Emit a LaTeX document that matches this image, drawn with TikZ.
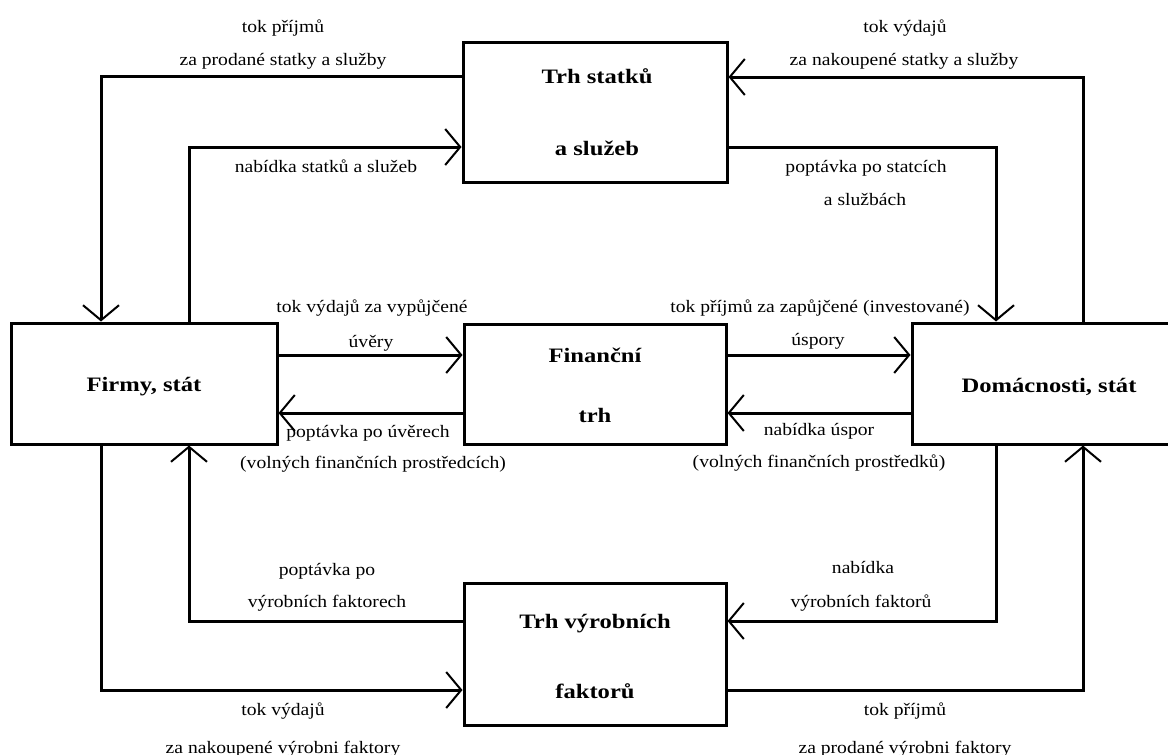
\documentclass[tikz,border=0pt]{standalone}
\usepackage{fontspec}
\setmainfont{Liberation Serif}[FakeStretch=1.2]
\newfontfamily\lblf{Liberation Serif}[FakeStretch=1.12]
\usetikzlibrary{arrows.meta}
\tikzset{
  box/.style={draw, line width=3pt, inner sep=0pt, rectangle},
  conn/.style={line width=3pt, line join=miter, -{Straight Barb[length=15pt,width=36pt,line width=2pt]}},
  lbl/.style={anchor=base, inner sep=0pt, font=\lblf\fontsize{17.5}{20}\selectfont},
  btxt/.style={anchor=base, inner sep=0pt, font=\fontsize{20.5}{24}\selectfont\bfseries},
}
\begin{document}
\begin{tikzpicture}[x=1pt,y=-1pt]
\fill[white] (0,0) rectangle (1168,755);
\clip (0,0) rectangle (1168,755);
% boxes
\node[box, minimum width=264pt, minimum height=140pt] (trhS) at (595,112) {};
\node[box, minimum width=266pt, minimum height=121pt] (firmy) at (144,383.5) {};
\node[box, minimum width=262pt, minimum height=120pt] (fin) at (595,384) {};
\node[box, minimum width=274pt, minimum height=121pt] (dom) at (1049,383.5) {};
\node[box, minimum width=262pt, minimum height=142pt] (trhV) at (595,654) {};
% box texts
\node[btxt] (bS1) at (597,83) {Trh statků};
\node[btxt] (bS2) at (597,155) {a služeb};
\node[btxt] (bF) at (144,391) {Firmy, stát};
\node[btxt] (bN1) at (595,362) {Finanční};
\node[btxt] (bN2) at (595,422) {trh};
\node[btxt] (bD) at (1049,392) {Domácnosti, stát};
\node[btxt] (bV1) at (595,628) {Trh výrobních};
\node[btxt] (bV2) at (595,698) {faktorů};
% connectors
\draw[conn] (trhS.west |- 0,76) -| (firmy.north -| 101,0);
\draw[conn] (firmy.north -| 189,0) |- (trhS.west |- 0,147);
\draw[conn] (dom.north -| 1083,0) |- (trhS.east |- 0,77);
\draw[conn] (trhS.east |- 0,147) -| (dom.north -| 996,0);
\draw[conn] (firmy.east |- 0,355) -- (fin.west |- 0,355);
\draw[conn] (fin.west |- 0,413) -- (firmy.east |- 0,413);
\draw[conn] (fin.east |- 0,355) -- (dom.west |- 0,355);
\draw[conn] (dom.west |- 0,413) -- (fin.east |- 0,413);
\draw[conn] (trhV.west |- 0,621) -| (firmy.south -| 189,0);
\draw[conn] (firmy.south -| 101,0) |- (trhV.west |- 0,690);
\draw[conn] (dom.south -| 996,0) |- (trhV.east |- 0,621);
\draw[conn] (trhV.east |- 0,690) -| (dom.south -| 1083,0);
% labels
\node[lbl] (l1a) at (283,32) {tok příjmů};
\node[lbl] (l1b) at (283,65) {za prodané statky a služby};
\node[lbl] (l2) at (326,172) {nabídka statků a služeb};
\node[lbl] (l3a) at (905,32) {tok výdajů};
\node[lbl] (l3b) at (904,65) {za nakoupené statky a služby};
\node[lbl] (l4a) at (866,172) {poptávka po statcích};
\node[lbl] (l4b) at (865,205) {a službách};
\node[lbl] (l5a) at (372,312) {tok výdajů za vypůjčené};
\node[lbl] (l5b) at (371,347) {úvěry};
\node[lbl] (l6a) at (368,437) {poptávka po úvěrech};
\node[lbl] (l6b) at (373,468) {(volných finančních prostředcích)};
\node[lbl] (l7a) at (820,312) {tok příjmů za zapůjčené (investované)};
\node[lbl] (l7b) at (818,345) {úspory};
\node[lbl] (l8a) at (819,435) {nabídka úspor};
\node[lbl] (l8b) at (819,467) {(volných finančních prostředků)};
\node[lbl] (l9a) at (327,575) {poptávka po};
\node[lbl] (l9b) at (327,607) {výrobních faktorech};
\node[lbl] (l10a) at (863,573) {nabídka};
\node[lbl] (l10b) at (861,607) {výrobních faktorů};
\node[lbl] (l11a) at (283,715) {tok výdajů};
\node[lbl] (l11b) at (283,753) {za nakoupené výrobni faktory};
\node[lbl] (l12a) at (905,715) {tok příjmů};
\node[lbl] (l12b) at (905,753) {za prodané výrobni faktory};
\end{tikzpicture}
\end{document}
